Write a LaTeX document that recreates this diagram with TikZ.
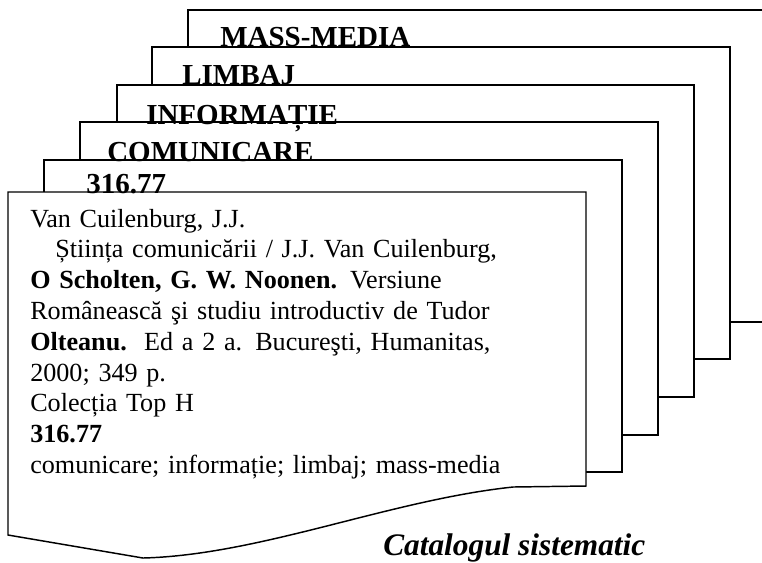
\documentclass[tikz,border=0pt]{standalone}
\usepackage{fontspec}
\setmainfont{Liberation Serif}[
	BoldFont={Liberation Serif Bold},
	ItalicFont={Liberation Serif Italic},
	BoldItalicFont={Liberation Serif Bold Italic}]

\begin{document}
\begin{tikzpicture}[x=0.75pt, y=-0.75pt,
		card/.style={draw, fill=white, line width=1.1pt},
		cardlabel/.style={anchor=base west, inner sep=0pt, font=\fontsize{21.75}{26}\selectfont\bfseries},
		entry/.style={anchor=base west, inner sep=0pt, text width=420pt, align=left, font=\fontsize{19.6}{23.1}\selectfont},
		caption/.style={anchor=base west, inner sep=0pt, font=\fontsize{23.5}{28}\selectfont\bfseries\itshape}]
		\clip (0,0) rectangle (762,562);

		% Cards, back to front
		\draw [card] (188,10) rectangle (766,322);
		\draw [card] (152,47) rectangle (730,359);
		\draw [card] (117,85) rectangle (694,397);
		\draw [card] (80,122) rectangle (658,435);
		\draw [card] (44,160) rectangle (622,472);
		\draw [card] (8,192) -- (586,192) -- (586,486) -- (513,487)
			.. controls (390,500) and (260,555) .. (143,558) -- (8,535) -- cycle;

		% Card headings
		\node [cardlabel] (massmedia) at (220,46) {MASS-MEDIA};
		\node [cardlabel] (limbaj) at (182,84) {LIMBAJ};
		\node [cardlabel] (informatie) at (146,124) {INFORMAȚIE};
		\node [cardlabel] (comunicare) at (107,161) {COMUNICARE};
		\node [cardlabel] (indice) at (86,193) {316.77};

		% Front card entry
		\node [entry] (fisa) at (30,227) {Van Cuilenburg, J.J.\\
			\hspace*{18.75pt}Știința comunicării / J.J. Van Cuilenburg,\\
			\textbf{O Scholten, G. W. Noonen.} Versiune\\
			Românească şi studiu introductiv de Tudor\\
			\textbf{Olteanu.}\ \ Ed a 2 a. Bucureşti, Humanitas,\\
			2000; 349 p.\\
			Colecția Top H\\
			\textbf{316.77}\\
			comunicare; informație; limbaj; mass-media};

		% Caption
		\node [caption] (titlu) at (383,555) {Catalogul sistematic};
	\end{tikzpicture}
\end{document}
